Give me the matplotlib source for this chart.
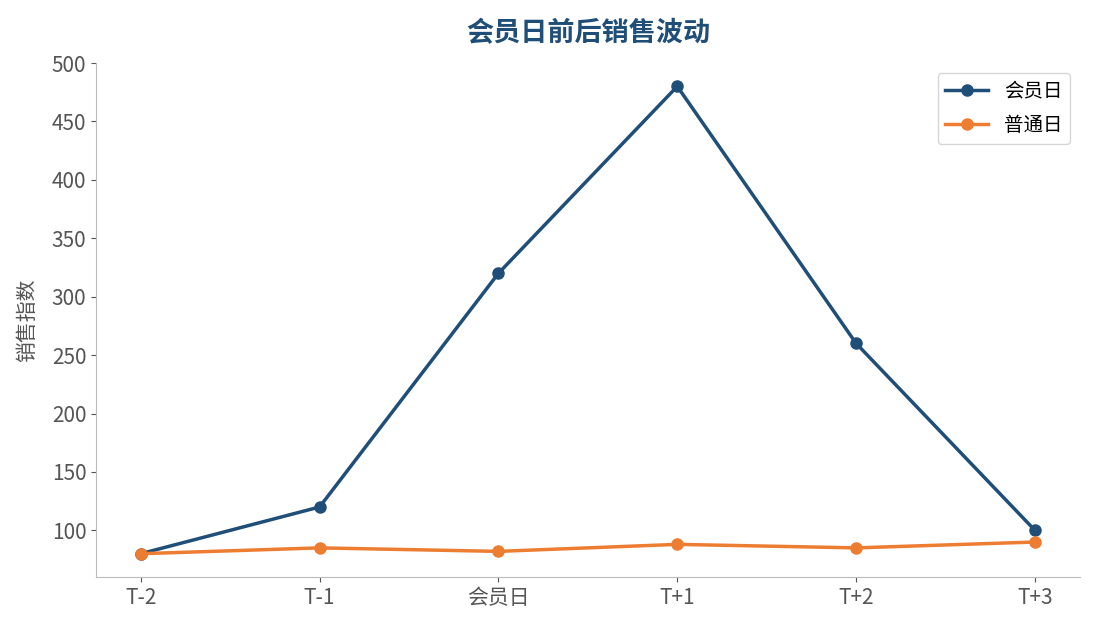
import matplotlib
matplotlib.use("Agg")
import matplotlib.pyplot as plt

plt.rcParams['font.family'] = ['Noto Sans CJK SC', 'DejaVu Sans']

categories = ["T-2", "T-1", "会员日", "T+1", "T+2", "T+3"]
member_day = [80, 120, 320, 480, 260, 100]
normal_day = [80, 85, 82, 88, 85, 90]

fig = plt.figure(figsize=(10.95, 6.3), dpi=100)
ax = fig.add_axes([0.0877, 0.084, 0.8983, 0.816])

x = list(range(len(categories)))
ax.plot(x, member_day, color="#1f4e79", lw=2.5, marker="o", ms=8, label="会员日")
ax.plot(x, normal_day, color="#ed7d31", lw=2.5, marker="o", ms=8, label="普通日")

ax.set_xticks(x)
ax.set_xticklabels(categories)
ax.set_ylabel("销售指数", fontsize=15, color="#555555", labelpad=10)
ax.set_title("会员日前后销售波动", fontsize=19.5, fontweight="bold", color="#1f4e79", pad=16)

for s in ["top", "right"]:
    ax.spines[s].set_visible(False)
for s in ["left", "bottom"]:
    ax.spines[s].set_color("#bbbbbb")
ax.tick_params(axis="both", colors="#555555", labelsize=15)

leg = ax.legend(loc="upper right", fontsize=14, frameon=True, labelspacing=0.7,
                handlelength=2.2)
leg.get_frame().set_edgecolor("#cccccc")

fig.savefig("out.png", dpi=100)
